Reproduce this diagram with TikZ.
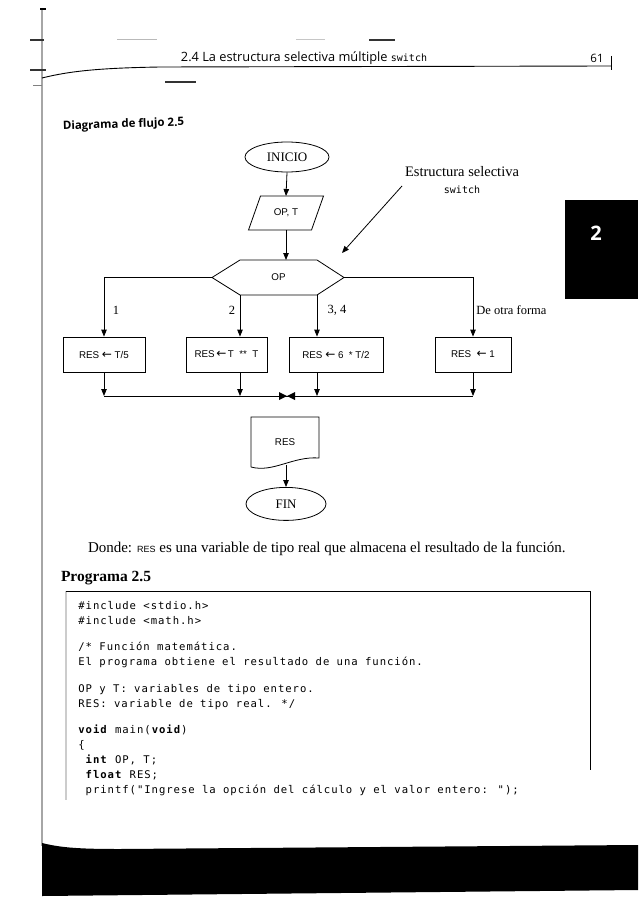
\documentclass[tikz,border=0pt]{standalone}
\usepackage{fontspec}
\setmainfont{Liberation Serif}
\newfontfamily\hdr{Open Sans}
\newfontfamily\lab{Liberation Sans}
\newfontfamily\arrf{DejaVu Sans}
\newfontfamily\codn{DejaVu Sans Mono}
\newfontfamily\cod{DejaVu Sans Mono}[LetterSpace=9]
\usetikzlibrary{arrows.meta,shapes.geometric,calc}
\newcommand{\la}{{\arrf\fontsize{12}{12}\selectfont\char"2190}}
\begin{document}
\begin{tikzpicture}[x=1pt,y=-1pt,
  line width=0.8pt,
  arr/.style={-{Triangle[length=7pt,width=5.5pt]}},
  term/.style={ellipse,draw,inner sep=0pt,font=\fontsize{13}{13}\selectfont},
  proc/.style={draw,rectangle,minimum height=35pt,inner sep=1pt,font=\lab\fontsize{9.8}{10}\selectfont},
  plain/.style={inner sep=0pt,outer sep=0pt},
  brlab/.style={inner sep=0pt,font=\fontsize{12.5}{13}\selectfont},
  codeline/.style={anchor=base west,inner sep=0pt,font=\cod\fontsize{10.6}{11}\selectfont}
]
\useasboundingbox (0,0) rectangle (638,901);
\fill[white] (0,0) rectangle (638,901);

% scan artifacts at the left margin
\draw[gray!70,line width=1.5pt] (42,8) -- (42,846);
\draw[black,line width=1.4pt] (40,9) -- (46,9);
\draw[black!80,line width=1.2pt] (30,40) -- (44,40);
\draw[black!80,line width=1.6pt] (30,70) -- (46,70);
\draw[black!50,line width=0.7pt] (33,85) -- (42,85);
\draw[gray!55,line width=0.9pt] (117,39) -- (157,39);
\draw[gray!45,line width=0.9pt] (296,39) -- (325,39);
\draw[black!80,line width=1.2pt] (369,40) -- (395,40);
\draw[black!80,line width=1.3pt] (165,82) -- (196,82);

% running head
\node[plain,font=\hdr\fontsize{12.8}{13}\selectfont,anchor=base] (head) at (304,62)
  {2.4 La estructura selectiva múltiple {\codn\fontsize{10}{10}\selectfont switch}};
\node[plain,font=\hdr\fontsize{11.5}{12}\selectfont,anchor=base] (pnum) at (597,63) {61};
\draw[line width=0.9pt] (42,78) .. controls (70,71) and (100,68) .. (160,67) -- (611,66);
\draw[line width=0.9pt] (611,56) -- (611,70);

% thumb tab
\fill[black] (565,200) rectangle (638,299);
\node[plain,white,font=\hdr\bfseries\fontsize{20}{20}\selectfont] (tab) at (596,233) {2};

% title
\node[plain,anchor=base west,rotate=2,font=\hdr\bfseries\fontsize{11.5}{12}\selectfont] (title) at (63,130) {Diagrama de flujo 2.5};

% ---------- flowchart ----------
\node[term,minimum width=84pt,minimum height=30pt] (inicio) at (287,157) {INICIO};

\node[plain,minimum width=63pt,minimum height=34pt,font=\lab\fontsize{9.8}{10}\selectfont] (in) at (286,213) {OP, T};
\draw ($(in.north west)+(6,0)$) -- ($(in.north east)+(6,0)$) -- ($(in.south east)+(-6,0)$) -- ($(in.south west)+(-6,0)$) -- cycle;

\node[plain,minimum width=77pt,minimum height=35pt,font=\lab\fontsize{9.8}{10}\selectfont] (op) at (278.5,277.5) {OP};
\coordinate (opL) at ($(op.west)+(-28,0)$);
\coordinate (opR) at ($(op.east)+(27,0)$);
\draw (op.north west) -- (op.north east) -- (opR) -- (op.south east) -- (op.south west) -- (opL) -- cycle;

\draw[arr] (inicio.south) -- (in.north);
\draw[arr] (in.south) -- (in.south |- op.north);

% annotation
\node[plain,align=center,font=\fontsize{14.5}{17}\selectfont] (note) at (462,180)
  {Estructura selectiva\\{\codn\fontsize{10}{10}\selectfont switch}};
\coordinate (noteS) at (402,186);
\coordinate (noteT) at (342,253);
\draw[arr] (noteS) -- (noteT);

% case boxes
\node[proc,minimum width=82pt] (b1) at (104,354.5) {RES \la\ T/5};
\node[proc,minimum width=81pt] (b2) at (226.5,354.5) {RES\,\la\,T\ \ **\ \ T};
\node[proc,minimum width=94pt] (b3) at (336,354.5) {RES \la\ 6 \ *\ T/2};
\node[proc,minimum width=76pt] (b4) at (473,354.5) {RES \ \la\ 1};

\draw[arr] (opL) -| (b1.north);
\draw[arr] (op.south west) -- (op.south west |- b2.north);
\draw[arr] (op.south east) -- (op.south east |- b3.north);
\draw[arr] (opR) -| (b4.north);

\node[brlab] (l1) at (116,310) {1};
\node[brlab] (l2) at (232,310) {2};
\node[brlab] (l3) at (337,310) {3, 4};
\node[brlab,anchor=west] (l4) at (476,310) {De otra forma};

% merge
\coordinate (j) at (287,396);
\draw (b1.south |- j) -- (b4.south |- j);
\draw[arr] (b1.south) -- (b1.south |- j);
\draw[arr] (op.south west |- b2.south) -- (op.south west |- j);
\draw[arr] (op.south east |- b3.south) -- (op.south east |- j);
\draw[arr] (b4.south) -- (b4.south |- j);
\fill (j) -- ++(-8,-4) -- ++(0,8) -- cycle;
\fill (j) -- ++(8,-4) -- ++(0,8) -- cycle;

% output document
\node[plain,minimum width=68pt,minimum height=50pt,font=\lab\fontsize{9.8}{10}\selectfont] (doc) at (285,442) {RES};
\draw (doc.south west) -- (doc.north west) -- (doc.north east) -- ($(doc.south east)+(0,-9)$)
  .. controls ($(doc.south)+(8,-11)$) and ($(doc.south)+(-12,6)$) .. (doc.south west);
\draw[arr] ($(doc.south)+(1,-2)$) -- ++(0,22) coordinate (finTop);

\node[term,minimum width=80pt,minimum height=33pt,anchor=north] (fin) at (finTop) {FIN};

% ---------- text below ----------
\node[plain,anchor=base west,font=\fontsize{15}{15}\selectfont] (donde) at (88,552)
  {Donde: {\lab\fontsize{9}{9}\selectfont RES} es una variable de tipo real que almacena el resultado de la función.};
\node[plain,anchor=base west,font=\bfseries\fontsize{15.5}{15}\selectfont] (prog) at (61,581) {Programa 2.5};

% code frame
\draw[gray!40,line width=1.2pt] (66,591) -- (66,800);
\draw[line width=0.9pt] (66,591) -- (590,591);
\draw[line width=0.9pt] (590,591) -- (590,770);

\node[codeline] (c1) at (78,609) {\#include <stdio.h>};
\node[codeline] (c2) at (78,624) {\#include <math.h>};
\node[codeline] (c3) at (78,650) {/* Función matemática.};
\node[codeline] (c4) at (78,665) {El programa obtiene el resultado de una función.};
\node[codeline] (c5) at (78,692) {OP y T: variables de tipo entero.};
\node[codeline] (c6) at (78,707) {RES: variable de tipo real. */};
\node[codeline] (c7) at (78,733) {\textbf{void} main(\textbf{void})};
\node[codeline] (c8) at (78,748) {\{};
\node[codeline] (c9) at (85.3,763) {\textbf{int} OP, T;};
\node[codeline] (c10) at (85.3,778) {\textbf{float} RES;};
\node[codeline] (c11) at (85.3,793) {printf("Ingrese la opción del cálculo y el valor entero: ");};

% bottom band
\fill (42,843) .. controls (62,848) and (82,849) .. (120,849) -- (638,845) -- (638,890) -- (42,896) -- cycle;
\end{tikzpicture}
\end{document}
